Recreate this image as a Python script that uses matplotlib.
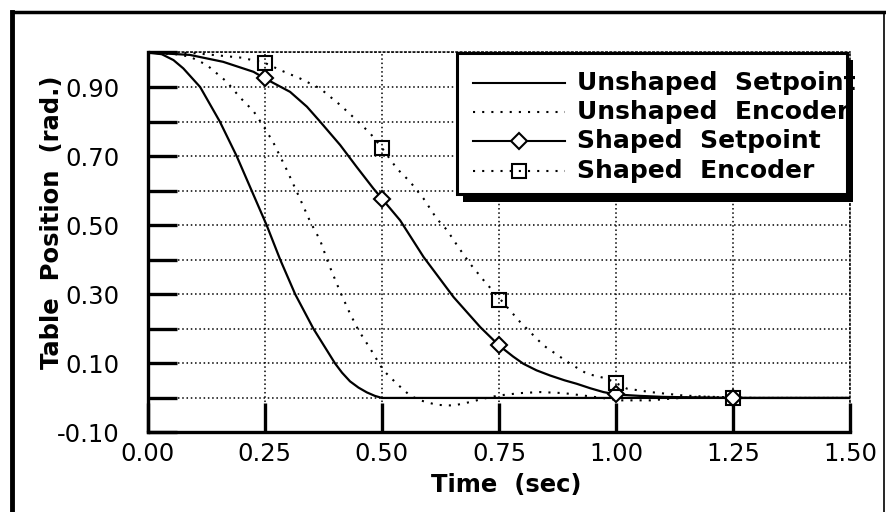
import numpy as np
import matplotlib.pyplot as plt
from matplotlib.patches import Rectangle
from matplotlib.lines import Line2D
from matplotlib.transforms import Bbox, TransformedBbox

# unshaped setpoint (solid)
t_us = [0, 0.03, 0.055, 0.076, 0.112, 0.154, 0.190, 0.222, 0.254, 0.283, 0.315,
        0.354, 0.400, 0.415, 0.432, 0.45, 0.468, 0.485, 0.50, 0.75, 1.0, 1.25, 1.5]
y_us = [1.0, 0.995, 0.978, 0.954, 0.90, 0.80, 0.70, 0.60, 0.50, 0.40, 0.30,
        0.20, 0.10, 0.073, 0.048, 0.030, 0.016, 0.006, 0.0, 0.0, 0.0, 0.0, 0.0]

# unshaped encoder (dotted)
t_ue = [0, 0.06, 0.09, 0.126, 0.169, 0.197, 0.226, 0.248, 0.268, 0.297, 0.325,
        0.347, 0.368, 0.386, 0.411, 0.432, 0.450, 0.475, 0.503, 0.532, 0.560,
        0.582, 0.617, 0.653, 0.688, 0.717, 0.749, 0.795, 0.838, 0.888, 0.930,
        0.97, 1.009, 1.073, 1.108, 1.18, 1.3, 1.5]
y_ue = [1.0, 0.995, 0.988, 0.964, 0.915, 0.870, 0.830, 0.785, 0.740, 0.660, 0.577,
        0.51, 0.457, 0.389, 0.307, 0.244, 0.196, 0.143, 0.08, 0.041, 0.007,
        -0.007, -0.020, -0.022, -0.012, -0.002, 0.007, 0.014, 0.017, 0.014, 0.007,
        0.0, -0.007, -0.007, -0.003, 0.004, 0.0, 0.0]

# shaped setpoint (solid)
t_ss = [0, 0.09, 0.161, 0.226, 0.25, 0.304, 0.340, 0.368, 0.411, 0.446, 0.482,
        0.50, 0.539, 0.589, 0.653, 0.71, 0.75, 0.78, 0.802, 0.83, 0.859, 0.89,
        0.916, 0.945, 0.973, 1.0, 1.05, 1.1, 1.25, 1.5]
y_ss = [1.0, 0.993, 0.973, 0.944, 0.925, 0.886, 0.843, 0.80, 0.732, 0.669, 0.606,
        0.577, 0.514, 0.408, 0.292, 0.205, 0.152, 0.120, 0.099, 0.080, 0.065, 0.051,
        0.041, 0.028, 0.017, 0.01, 0.006, 0.003, 0.0, 0.0]

# shaped encoder (dotted)
t_se = [0, 0.1, 0.2, 0.25, 0.283, 0.325, 0.368, 0.411, 0.446, 0.475, 0.50,
        0.532, 0.560, 0.589, 0.617, 0.639, 0.663, 0.688, 0.72, 0.75, 0.795,
        0.845, 0.902, 0.938, 0.98, 1.0, 1.023, 1.073, 1.144, 1.25, 1.5]
y_se = [1.0, 0.998, 0.985, 0.97, 0.949, 0.925, 0.896, 0.848, 0.804, 0.766, 0.724,
        0.664, 0.626, 0.577, 0.519, 0.486, 0.437, 0.389, 0.336, 0.290, 0.220,
        0.152, 0.099, 0.070, 0.056, 0.043, 0.027, 0.017, 0.007, 0.0, 0.0]

mark_t = [0.25, 0.5, 0.75, 1.0, 1.25]
mark_ss = [0.925, 0.577, 0.152, 0.01, 0.0]
mark_se = [0.97, 0.724, 0.283, 0.043, 0.0]

x_ticks = [0, 0.25, 0.5, 0.75, 1.0, 1.25, 1.5]
x_labels = ['0.00', '0.25', '0.50', '0.75', '1.00', '1.25', '1.50']
y_ticks = [-0.1, 0.0, 0.1, 0.2, 0.3, 0.4, 0.5, 0.6, 0.7, 0.8, 0.9, 1.0]
y_labels = ['-0.10', '', '0.10', '', '0.30', '', '0.50', '', '0.70', '', '0.90', '']

labels = ['Unshaped  Setpoint', 'Unshaped  Encoder', 'Shaped  Setpoint', 'Shaped  Encoder']

dots = (0, (1, 3.4))
grid_dots = (0, (1, 1.8))

fig = plt.figure(figsize=(8.87, 5.12), dpi=100)
ax = fig.add_axes([0.1665, 0.1553, 0.7921, 0.7422])

ax.plot(t_us, y_us, color='k', lw=1.6, zorder=3)
ax.plot(t_ue, y_ue, color='k', lw=1.5, ls=dots, zorder=3)
ax.plot(t_ss, y_ss, color='k', lw=1.6, zorder=3)
ax.plot(t_se, y_se, color='k', lw=1.5, ls=dots, zorder=3)
ax.plot(mark_t, mark_ss, ls='none', marker='D', ms=8, mfc='white', mec='k', mew=1.5, zorder=4)
ax.plot(mark_t, mark_se, ls='none', marker='s', ms=10.5, mfc='none', mec='k', mew=1.5, zorder=4)

ax.set_xlim(0, 1.5)
ax.set_ylim(-0.1, 1.0)
ax.set_xticks(x_ticks)
ax.set_xticklabels(x_labels)
ax.set_yticks(y_ticks)
ax.set_yticklabels(y_labels)
ax.tick_params(direction='in', length=21, width=2.4, labelsize=17.5, color='k')
ax.tick_params(axis='y', pad=20)
ax.tick_params(axis='x', pad=7)
ax.grid(True, color='k', lw=1.1, ls=grid_dots)

for s in ['left', 'bottom']:
    ax.spines[s].set_linewidth(2.4)
for s in ['top', 'right']:
    ax.spines[s].set_linewidth(1.1)
    ax.spines[s].set_linestyle(grid_dots)

# legend box with drop shadow
bx, by, bw, bh = 0.4408, 0.6276, 0.5549, 0.3714
ax.add_patch(Rectangle((bx + 0.008, by - 0.02), bw, bh, facecolor='k', edgecolor='none',
                       transform=ax.transAxes, clip_on=False, zorder=5))
ax.add_patch(Rectangle((bx, by), bw, bh, facecolor='white', edgecolor='k', lw=2.2,
                       transform=ax.transAxes, clip_on=False, zorder=6))

rows = [0.9205, 0.8442, 0.7671, 0.6882]
styles = ['-', dots, '-', dots]
markers = [None, None, 'D', 's']
clip = TransformedBbox(Bbox([[0, 0], [1.0074, 1.02]]), ax.transAxes)
for ry, st, mk, lab in zip(rows, styles, markers, labels):
    ax.add_line(Line2D([0.4636, 0.5942], [ry, ry], color='k', lw=1.5, ls=st,
                       transform=ax.transAxes, clip_on=False, zorder=7))
    if mk == 'D':
        ax.add_line(Line2D([0.529], [ry], marker='D', ms=8, mfc='white', mec='k', mew=1.5,
                           transform=ax.transAxes, clip_on=False, zorder=8))
    elif mk == 's':
        ax.add_line(Line2D([0.529], [ry], marker='s', ms=10.5, mfc='none', mec='k', mew=1.5,
                           transform=ax.transAxes, clip_on=False, zorder=8))
    txt = ax.text(0.611, ry, lab, transform=ax.transAxes, fontsize=18, fontweight='bold',
                  ha='left', va='center', zorder=8)
    txt.set_clip_on(True)
    txt.set_clip_box(clip)

fig.text(52 / 887, 0.565, 'Table  Position  (rad.)', rotation=90, ha='center', va='center',
         fontsize=17.5, fontweight='bold')
fig.text(506 / 887, 1 - 485 / 512, 'Time  (sec)', ha='center', va='center',
         fontsize=17.5, fontweight='bold')

# outer frame
ft = 1 - 11.5 / 512
fig.add_artist(Line2D([12 / 887, 12 / 887], [0, ft], color='k', lw=3.5, transform=fig.transFigure))
fig.add_artist(Line2D([12 / 887, 884 / 887], [ft, ft], color='k', lw=2.5, transform=fig.transFigure))
fig.add_artist(Line2D([884 / 887, 884 / 887], [0, ft], color='k', lw=1.2, transform=fig.transFigure))

fig.savefig('out.png', dpi=100)
